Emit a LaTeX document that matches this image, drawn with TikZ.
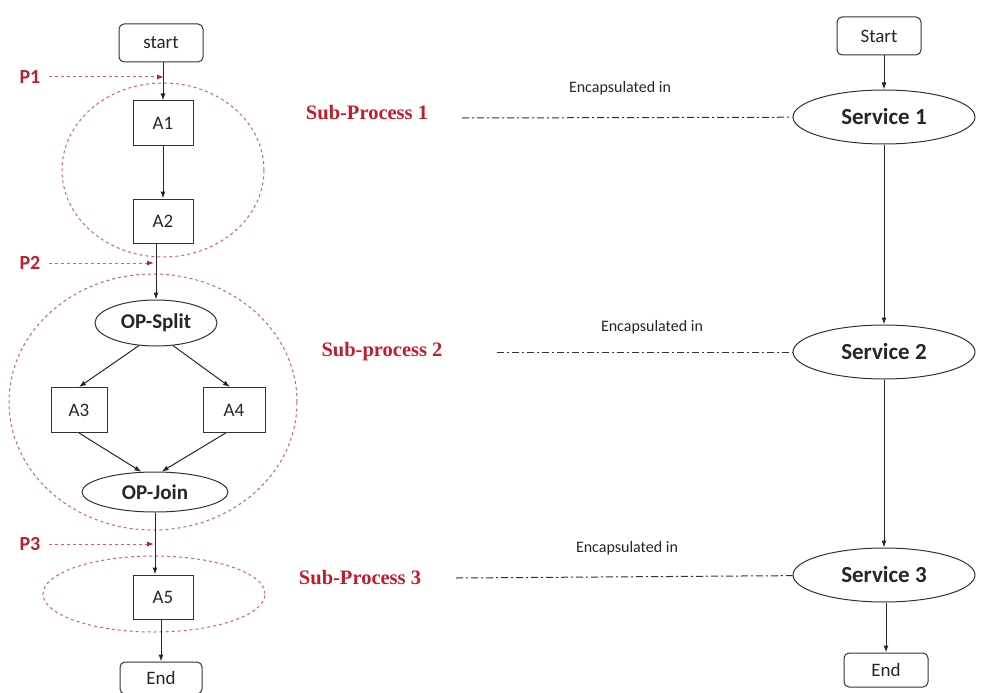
\documentclass[tikz,border=0pt]{standalone}
\usepackage{fontspec}
\setmainfont{Carlito}
\newfontfamily\timesfont{Liberation Serif}
\usetikzlibrary{shapes.geometric,arrows.meta}
\definecolor{pred}{RGB}{192,30,45}
\definecolor{gred}{RGB}{215,95,108}
\definecolor{lgray}{RGB}{50,50,50}
\begin{document}
\begin{tikzpicture}[x=1pt, y=-1pt, every node/.style = {inner sep=0pt, align=center, text=black!85},
      box/.style={draw=lgray, line width=1pt, minimum width=60pt, minimum height=44pt, font=\fontsize{19}{21}\selectfont},
      term/.style={box, rounded corners=5pt, minimum width=84pt, minimum height=38pt},
      oval/.style={ellipse, draw=lgray, line width=1pt, font=\bfseries\fontsize{21}{23}\selectfont},
      svc/.style={oval, minimum width=182pt, minimum height=54pt, font=\bfseries\fontsize{23}{25}\selectfont},
      grp/.style={ellipse, draw=gred, dashed, line width=1pt},
      plabel/.style={text=pred, font=\bfseries\fontsize{20}{22}\selectfont},
      sublabel/.style={text=pred, font=\timesfont\bfseries\fontsize{20.5}{22}\selectfont},
      enc/.style={font=\fontsize{16}{18}\selectfont},
      flow/.style={draw=black!85, line width=1pt, -{Latex[length=7pt,width=5pt]}},
      pflow/.style={draw=gred, dashed, line width=1pt, -{Latex[length=7pt,width=5pt,color=pred]}},
      link/.style={draw=black!80, line width=1pt, dash pattern=on 7pt off 3pt on 2pt off 3pt}]
      \useasboundingbox (0,0) rectangle (986,693);
      \node[grp, minimum width=202pt, minimum height=174pt] (grp1) at (163,170) {};
      \node[grp, minimum width=288pt, minimum height=256pt] (grp2) at (153,402) {};
      \node[grp, minimum width=222pt, minimum height=76pt] (grp3) at (154,594) {};
      \node[term] (start) at (161,43) {start};
      \node[box] (A1) at (163,123) {A1};
      \node[box] (A2) at (163,221) {A2};
      \node[oval, minimum width=122pt, minimum height=46pt] (opsplit) at (156,323) {OP-Split};
      \node[box, minimum width=56pt, minimum height=45pt] (A3) at (79,410) {A3};
      \node[box, minimum width=62pt, minimum height=45pt] (A4) at (234,410) {A4};
      \node[oval, minimum width=146pt, minimum height=40pt] (opjoin) at (155,492) {OP-Join};
      \node[box] (A5) at (163,597) {A5};
      \node[term, minimum width=82pt, minimum height=32pt] (End) at (161,678) {End};
      \draw[flow] (start.south -| A1) -- (A1);
      \draw[flow] (A1) -- (A2);
      \draw[flow] (A2.south -| opsplit) -- (opsplit);
      \draw[flow] (opsplit.233) -- (A3.north);
      \draw[flow] (opsplit.307) -- (A4.100);
      \draw[flow] (A3.south) -- (opjoin.124);
      \draw[flow] (A4.250) -- (opjoin.72);
      \draw[flow] (opjoin.south) -- (opjoin.south |- A5.north);
      \draw[flow] (A5.south -| End) -- (End);
      \node[plabel] (P1) at (30,77) {P1};
      \node[plabel] (P2) at (30,263) {P2};
      \node[plabel] (P3) at (30,544) {P3};
      \coordinate (p1tip) at (164,77);
      \coordinate (p2tip) at (154,263);
      \coordinate (p3tip) at (154,544);
      \draw[pflow, shorten <=8pt] (P1) -- (p1tip);
      \draw[pflow, shorten <=8pt] (P2) -- (p2tip);
      \draw[pflow, shorten <=8pt] (P3) -- (p3tip);
      \node[sublabel] (sub1) at (367,113) {Sub-Process 1};
      \node[sublabel] (sub2) at (382,352) {Sub-process 2};
      \node[sublabel] (sub3) at (360,578) {Sub-Process 3};
      \node[term] (Start) at (879,36) {Start};
      \node[svc] (svc1) at (884,117) {Service 1};
      \node[svc] (svc2) at (884,352) {Service 2};
      \node[svc] (svc3) at (884,575) {Service 3};
      \node[term, minimum height=34pt] (End2) at (886,670) {End};
      \draw[flow] (Start.south -| svc1) -- (svc1);
      \draw[flow] (svc1) -- (svc2);
      \draw[flow] (svc2) -- (svc3);
      \draw[flow] (svc3.south -| End2) -- (End2);
      \coordinate (enc1) at (462,118);
      \coordinate (enc2) at (497,352);
      \coordinate (enc3) at (456,578);
      \draw[link] (enc1) -- (svc1);
      \draw[link] (enc2) -- (svc2);
      \draw[link] (enc3) -- (svc3);
      \node[enc] (e1) at (620,88) {Encapsulated in};
      \node[enc] (e2) at (652,327) {Encapsulated in};
      \node[enc] (e3) at (627,548) {Encapsulated in};
    \end{tikzpicture}
\end{document}
